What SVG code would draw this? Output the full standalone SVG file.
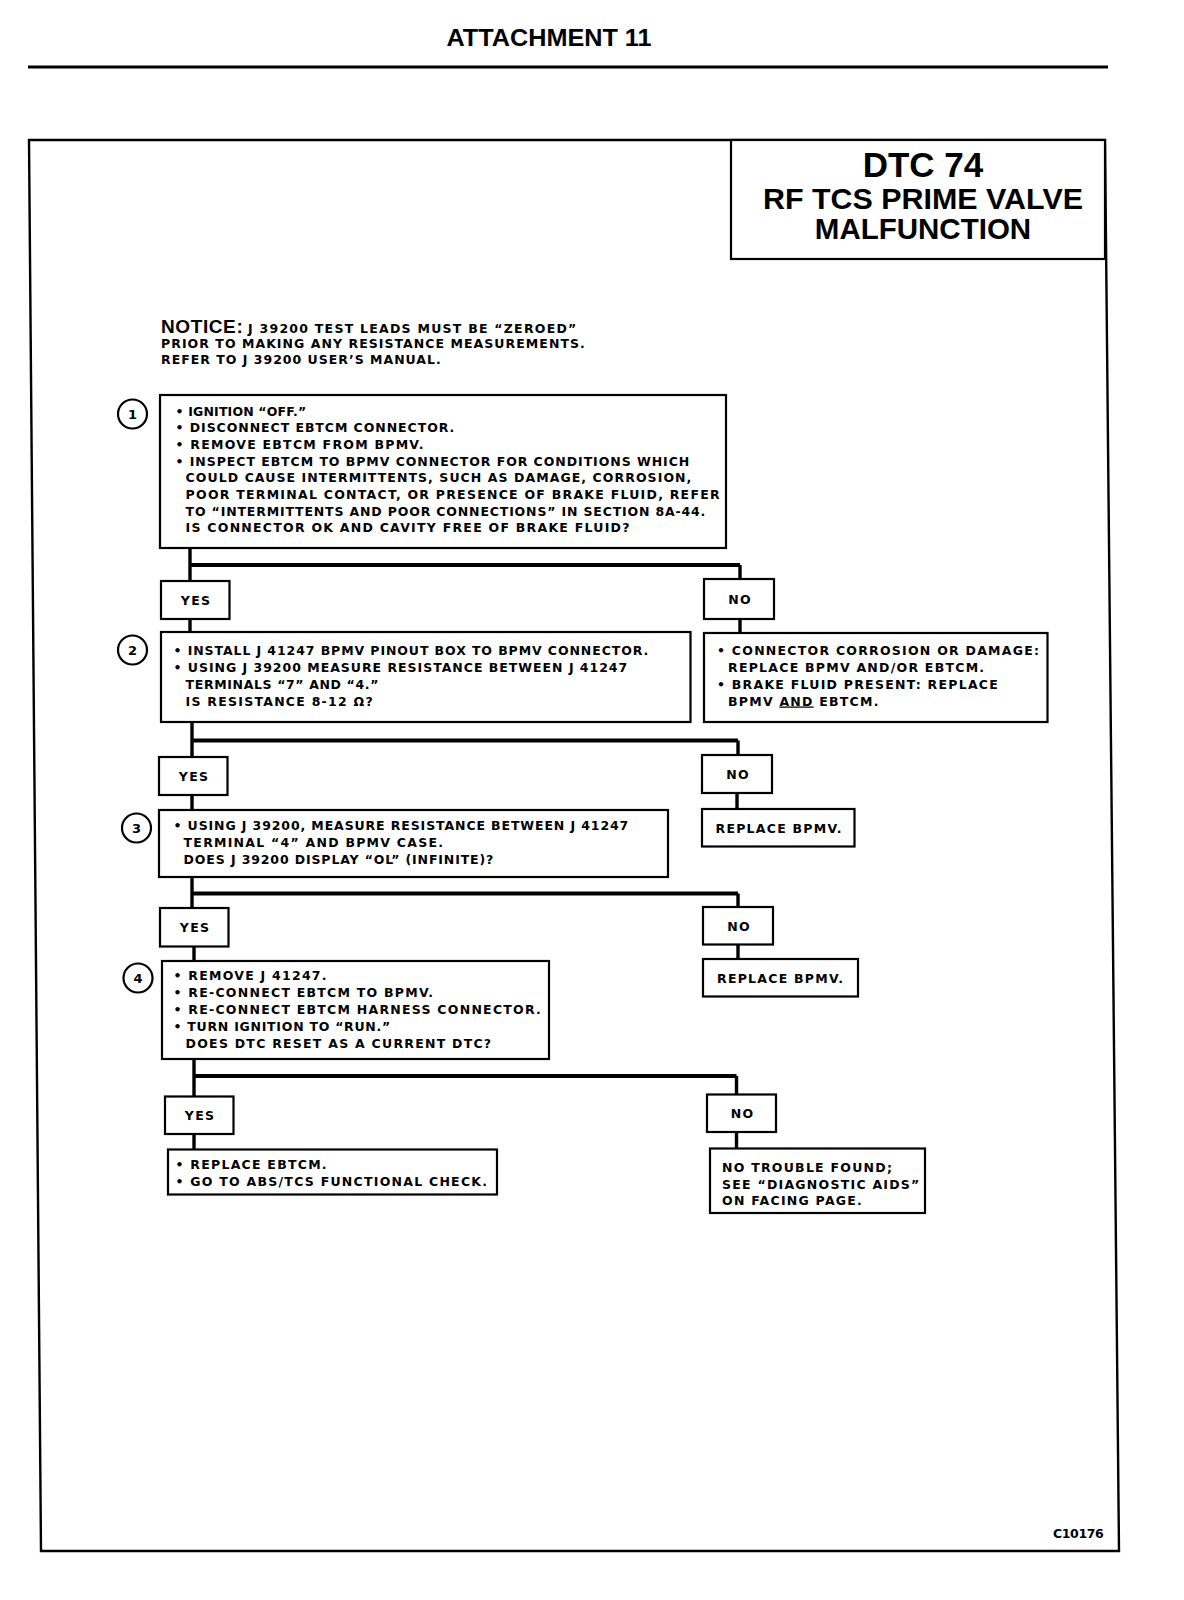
<svg xmlns="http://www.w3.org/2000/svg" width="1184" height="1600" viewBox="0 0 1184 1600">
<style>
.bg{fill:#ffffff}
.box{fill:#ffffff;stroke:#000;stroke-width:2.2}
.frame{fill:none;stroke:#000;stroke-width:2.4}
.cv{fill:none;stroke:#000;stroke-width:3.4}
.ch{fill:none;stroke:#000;stroke-width:4.2}
.t{font-family:"DejaVu Sans","Liberation Sans",sans-serif;font-weight:bold;font-size:12.5px;letter-spacing:1.25px;fill:#000}
.yn{font-family:"DejaVu Sans","Liberation Sans",sans-serif;font-weight:bold;font-size:12.5px;letter-spacing:1.25px;fill:#000;text-anchor:middle}
.num{font-family:"DejaVu Sans","Liberation Sans",sans-serif;font-weight:bold;font-size:13px;fill:#000;text-anchor:middle}
.circ{fill:#ffffff;stroke:#000;stroke-width:2.2}
.hd{font-family:"Liberation Sans",Arial,sans-serif;font-weight:bold;fill:#000;text-anchor:middle}
.u{text-decoration:underline}
</style>
<rect class="bg" x="0" y="0" width="1184" height="1600"/>

<g id="header">
<text class="hd" x="549" y="46" font-size="24.5" textLength="205" lengthAdjust="spacingAndGlyphs">ATTACHMENT 11</text>
<line x1="28" y1="67" x2="1108" y2="67" stroke="#000" stroke-width="3"/>
</g>

<g id="frame">
<polygon class="frame" points="29,140 1105,140 1119,1551 41,1551"/>
</g>

<g id="title">
<rect class="box" x="731" y="140" width="374" height="119"/>
<text class="hd" x="923" y="177" font-size="35">DTC 74</text>
<text class="hd" x="923" y="208.5" font-size="30" textLength="320" lengthAdjust="spacingAndGlyphs">RF TCS PRIME VALVE</text>
<text class="hd" x="923" y="238.5" font-size="29.5">MALFUNCTION</text>
</g>

<g id="notice">
<text x="161" y="332.5"><tspan font-family="Liberation Sans, Arial, sans-serif" font-weight="bold" font-size="19" letter-spacing="0.6">NOTICE:</tspan><tspan class="t" x="248">J 39200 TEST LEADS MUST BE “ZEROED”</tspan></text>
<text class="t" x="161" y="348" textLength="425" lengthAdjust="spacing">PRIOR TO MAKING ANY RESISTANCE MEASUREMENTS.</text>
<text class="t" x="161" y="364" textLength="281" lengthAdjust="spacing">REFER TO J 39200 USER’S MANUAL.</text>
</g>

<g id="connectors">
<path class="cv" d="M190,548 V581"/>
<path class="ch" d="M190,565 H740"/>
<path class="cv" d="M740,565 V579"/>
<path class="cv" d="M190,619 V632"/>
<path class="cv" d="M740,619 V633"/>

<path class="cv" d="M192,722 V757"/>
<path class="ch" d="M192,740.5 H738"/>
<path class="cv" d="M738,740.5 V755"/>
<path class="cv" d="M192,795 V810"/>
<path class="cv" d="M737,793 V809"/>

<path class="cv" d="M192,877 V908"/>
<path class="ch" d="M192,893.5 H738"/>
<path class="cv" d="M738,893.5 V907"/>
<path class="cv" d="M194,946.5 V961"/>
<path class="cv" d="M738,944.5 V959"/>

<path class="cv" d="M194,1059 V1096.5"/>
<path class="ch" d="M194,1076 H736.5"/>
<path class="cv" d="M736.5,1076 V1094.5"/>
<path class="cv" d="M194,1134 V1149.5"/>
<path class="cv" d="M736.5,1132 V1148.5"/>
</g>

<g id="step1">
<circle class="circ" cx="132.5" cy="414" r="14.5"/>
<text class="num" x="132.5" y="418.6">1</text>
<rect class="box" x="160" y="395" width="566" height="153"/>
<text class="t" x="175.5" y="415.5" textLength="132" lengthAdjust="spacing">• IGNITION “OFF.”</text>
<text class="t" x="175.5" y="432.2" textLength="280" lengthAdjust="spacing">• DISCONNECT EBTCM CONNECTOR.</text>
<text class="t" x="175.5" y="448.9">• REMOVE EBTCM FROM BPMV.</text>
<text class="t" x="175.5" y="465.6" textLength="515" lengthAdjust="spacing">• INSPECT EBTCM TO BPMV CONNECTOR FOR CONDITIONS WHICH</text>
<text class="t" x="185.6" y="482.3" textLength="507" lengthAdjust="spacing">COULD CAUSE INTERMITTENTS, SUCH AS DAMAGE, CORROSION,</text>
<text class="t" x="185.6" y="499">POOR TERMINAL CONTACT, OR PRESENCE OF BRAKE FLUID, REFER</text>
<text class="t" x="185.6" y="515.7" textLength="521" lengthAdjust="spacing">TO “INTERMITTENTS AND POOR CONNECTIONS” IN SECTION 8A-44.</text>
<text class="t" x="185.6" y="532.4">IS CONNECTOR OK AND CAVITY FREE OF BRAKE FLUID?</text>
</g>

<g id="yes1">
<rect class="box" x="161" y="581" width="68.5" height="38"/>
<text class="yn" x="196" y="604.6">YES</text>
</g>
<g id="no1">
<rect class="box" x="704" y="579" width="70" height="40"/>
<text class="yn" x="740" y="603.6">NO</text>
</g>

<g id="step2">
<circle class="circ" cx="132.5" cy="650" r="14.5"/>
<text class="num" x="132.5" y="654.6">2</text>
<rect class="box" x="161" y="632" width="529.5" height="90"/>
<text class="t" x="173.5" y="654.5" textLength="476" lengthAdjust="spacing">• INSTALL J 41247 BPMV PINOUT BOX TO BPMV CONNECTOR.</text>
<text class="t" x="173.5" y="671.5" textLength="455" lengthAdjust="spacing">• USING J 39200 MEASURE RESISTANCE BETWEEN J 41247</text>
<text class="t" x="185.6" y="688.5" textLength="194" lengthAdjust="spacing">TERMINALS “7” AND “4.”</text>
<text class="t" x="185.6" y="705.5">IS RESISTANCE 8-12 Ω?</text>
</g>

<g id="fix1">
<rect class="box" x="704" y="633" width="343.5" height="89"/>
<text class="t" x="717" y="654.5">• CONNECTOR CORROSION OR DAMAGE:</text>
<text class="t" x="728" y="671.5">REPLACE BPMV AND/OR EBTCM.</text>
<text class="t" x="717" y="688.5">• BRAKE FLUID PRESENT: REPLACE</text>
<text class="t" x="728" y="705.5">BPMV <tspan class="u">AND</tspan> EBTCM.</text>
</g>

<g id="yes2">
<rect class="box" x="159" y="757" width="68.5" height="38"/>
<text class="yn" x="194" y="780.6">YES</text>
</g>
<g id="no2">
<rect class="box" x="702" y="755" width="70" height="38"/>
<text class="yn" x="738" y="778.6">NO</text>
</g>
<g id="fix2">
<rect class="box" x="702" y="809" width="152.5" height="37.5"/>
<text class="t" x="715.5" y="832.5">REPLACE BPMV.</text>
</g>

<g id="step3">
<circle class="circ" cx="136.5" cy="828" r="14.5"/>
<text class="num" x="136.5" y="832.6">3</text>
<rect class="box" x="159" y="810" width="509" height="67"/>
<text class="t" x="173.5" y="829.5" textLength="456" lengthAdjust="spacing">• USING J 39200, MEASURE RESISTANCE BETWEEN J 41247</text>
<text class="t" x="183.6" y="846.5">TERMINAL “4” AND BPMV CASE.</text>
<text class="t" x="183.6" y="863.5" textLength="311" lengthAdjust="spacing">DOES J 39200 DISPLAY “OL” (INFINITE)?</text>
</g>

<g id="yes3">
<rect class="box" x="160" y="908" width="68.5" height="38.5"/>
<text class="yn" x="195" y="931.7">YES</text>
</g>
<g id="no3">
<rect class="box" x="703" y="907" width="70" height="37.5"/>
<text class="yn" x="739" y="930.6">NO</text>
</g>
<g id="fix3">
<rect class="box" x="703" y="959" width="155" height="37.5"/>
<text class="t" x="717" y="982.5">REPLACE BPMV.</text>
</g>

<g id="step4">
<circle class="circ" cx="138" cy="978" r="14.5"/>
<text class="num" x="138" y="982.6">4</text>
<rect class="box" x="162" y="961" width="387" height="98"/>
<text class="t" x="173.5" y="980">• REMOVE J 41247.</text>
<text class="t" x="173.5" y="997">• RE-CONNECT EBTCM TO BPMV.</text>
<text class="t" x="173.5" y="1014">• RE-CONNECT EBTCM HARNESS CONNECTOR.</text>
<text class="t" x="173.5" y="1031" textLength="218" lengthAdjust="spacing">• TURN IGNITION TO “RUN.”</text>
<text class="t" x="185.6" y="1048">DOES DTC RESET AS A CURRENT DTC?</text>
</g>

<g id="yes4">
<rect class="box" x="165" y="1096.5" width="68.5" height="37.5"/>
<text class="yn" x="200" y="1119.9">YES</text>
</g>
<g id="no4">
<rect class="box" x="707" y="1094.5" width="69" height="37.5"/>
<text class="yn" x="742.5" y="1117.9">NO</text>
</g>

<g id="result-yes">
<rect class="box" x="168" y="1149.5" width="329" height="45"/>
<text class="t" x="175.5" y="1168.5">• REPLACE EBTCM.</text>
<text class="t" x="175.5" y="1185.5">• GO TO ABS/TCS FUNCTIONAL CHECK.</text>
</g>

<g id="result-no">
<rect class="box" x="710" y="1148.5" width="215" height="64.5"/>
<text class="t" x="722" y="1171.5">NO TROUBLE FOUND;</text>
<text class="t" x="722" y="1188.5">SEE “DIAGNOSTIC AIDS”</text>
<text class="t" x="722" y="1205">ON FACING PAGE.</text>
</g>

<g id="code">
<text class="t" x="1053" y="1538" font-size="11" letter-spacing="0.4" textLength="52" lengthAdjust="spacing">C10176</text>
</g>
</svg>
